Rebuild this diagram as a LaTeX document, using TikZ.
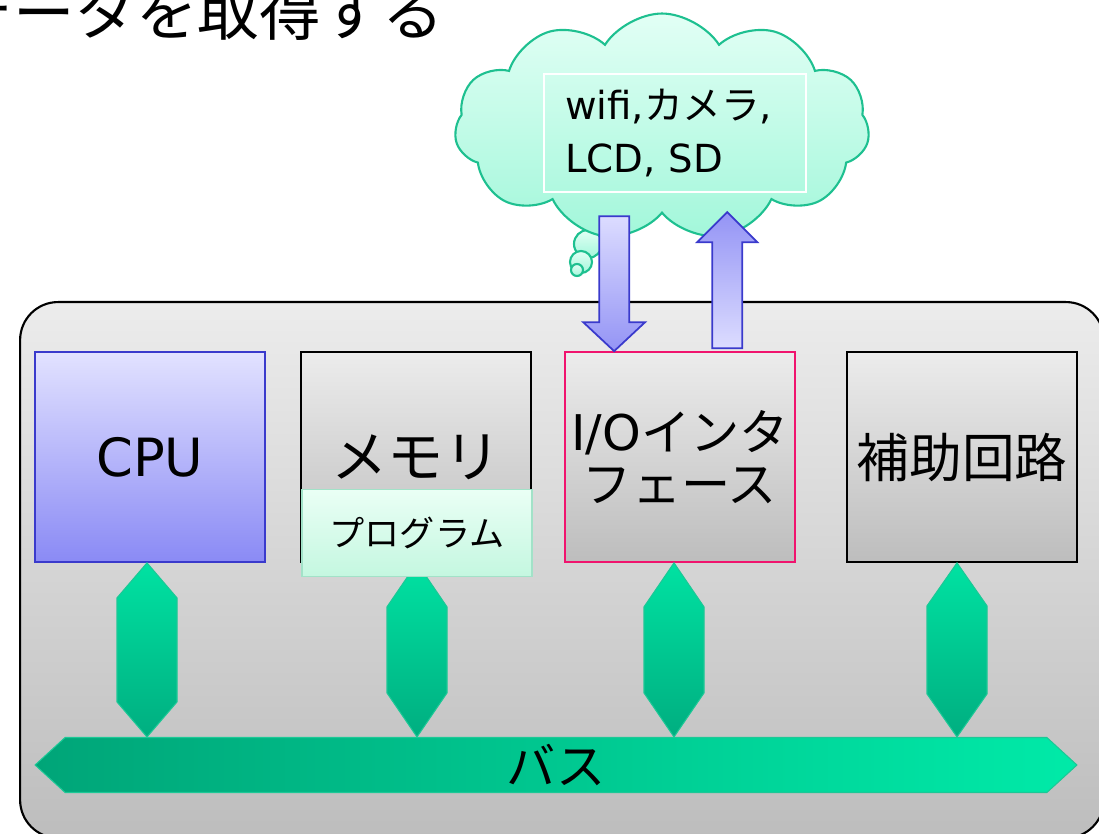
\documentclass[tikz,border=0pt]{standalone}
\usepackage{fontspec}
\setmainfont{DejaVu Sans}
\newfontfamily\jp{Noto Sans CJK JP}
\usetikzlibrary{calc,shapes.symbols,shapes.arrows}

\definecolor{grayTop}{HTML}{ECECEC}
\definecolor{grayBot}{HTML}{BDBDBD}
\definecolor{cpuTop}{HTML}{E2E2FF}
\definecolor{cpuBot}{HTML}{8A8AF5}
\definecolor{cpuLine}{HTML}{3A3ACC}
\definecolor{ioLine}{HTML}{F0146E}
\definecolor{progTop}{HTML}{EAFFF5}
\definecolor{progBot}{HTML}{C4F7E0}
\definecolor{progLine}{HTML}{A2E2C8}
\definecolor{greenTop}{HTML}{00E2A2}
\definecolor{greenBot}{HTML}{00AE80}
\definecolor{greenLine}{HTML}{1CC896}
\definecolor{busLeft}{HTML}{00A578}
\definecolor{busRight}{HTML}{00EAA8}
\definecolor{cloudTop}{HTML}{E2FFF5}
\definecolor{cloudBot}{HTML}{A2F7DA}
\definecolor{cloudLine}{HTML}{1EC090}
\definecolor{arrLight}{HTML}{DCDCFF}
\definecolor{arrDark}{HTML}{9494F5}

\begin{document}
\begin{tikzpicture}[x=0.02cm, y=-0.02cm,
    board/.style={draw, line width=1.2pt, rounded corners=0.76cm,
                  top color=grayTop, bottom color=grayBot,
                  minimum width=21.68cm, minimum height=10.72cm},
    unit/.style={draw, line width=1pt, inner sep=0pt, align=center,
                 minimum width=4.6cm, minimum height=4.2cm,
                 top color=grayTop, bottom color=grayBot,
                 font=\fontsize{30}{36}\selectfont},
    prog/.style={draw=progLine, line width=1pt, top color=progTop, bottom color=progBot,
                 minimum width=4.6cm, minimum height=1.74cm,
                 font=\fontsize{20}{22}\selectfont\jp},
    bus/.style={shape=double arrow, double arrow head extend=0pt,
                double arrow tip angle=85, draw=greenLine, line width=0.6pt,
                minimum height=20.84cm, minimum width=1.1cm, inner sep=0pt,
                left color=busLeft, right color=busRight,
                font=\fontsize{28}{30}\selectfont\jp},
    link/.style={draw=greenLine, line width=0.6pt, top color=greenTop, bottom color=greenBot},
    puff/.style={draw=cloudLine, line width=1.2pt, top color=cloudTop, bottom color=cloudBot},
    fat/.style={draw=cpuLine, line width=1pt}]

  \useasboundingbox (0,0) rectangle (1099,834);
  \clip (0,0) rectangle (1099,834);

  \node [anchor=base east, font=\fontsize{35}{40}\selectfont\jp] (title) at (450,36)
        {データを取得する};

  \node [board] (board) at (562,570) {};

  % the four units on the board
  \node [unit, draw=cpuLine, top color=cpuTop, bottom color=cpuBot] (cpu) at (150,457) {CPU};
  \node [unit, font=\fontsize{32}{36}\selectfont] (mem) at (416,457) {\jp メモリ};
  \node [unit, draw=ioLine, font=\fontsize{28}{30}\selectfont] (io) at (680,457)
        {I/O{\jp インタ}\\{\jp フェース}};
  \node [unit] (aux) at (962,457) {\jp 補助回路};

  \node [bus] (bus) at (556,765) {バス};

  % unit <-> bus links
  \foreach \b/\h/\s in {cpu/35/-3, mem/44/1, io/44/-6, aux/43/-5}
    \draw [link] ($(\b.south)+(\s,0)$) -- ++(30,\h)
          -- ($(\b.south |- bus.north)+(\s+30,-\h)$)
          -- ($(\b.south |- bus.north)+(\s,0)$)
          -- ($(\b.south |- bus.north)+(\s-30,-\h)$)
          -- ($(\b.south)+(\s-30,\h)$) -- cycle;

  \node [prog] (prog) at (417,533) {プログラム};

  % devices cloud
  \draw [puff] (588,244) circle (14);
  \draw [puff] (581,262) circle (11);
  \draw [puff] (577,270) circle (6);
  \node [puff, shape=cloud, cloud puffs=11, cloud puff arc=115, aspect=1.83,
         minimum width=8.3cm, minimum height=4.54cm, inner sep=0pt] (cloud) at (662,127) {};
  \node [draw=white, line width=1pt, minimum width=5.24cm, minimum height=2.36cm,
         inner xsep=0.42cm, text width=4.4cm, align=left,
         font=\fontsize{22}{30}\selectfont] (dev) at (675,133)
        {wifi,{\jp カメラ},\\LCD, SD};

  % data in / out of the I/O unit
  \coordinate (dn) at ($(io.north west)+(50,0)$);
  \coordinate (up) at ($(io.north west)+(163,-3)$);
  \draw [fat, top color=arrLight, bottom color=arrDark] (dn) -- ++(31,-29) -- ++(-16,0)
        -- ++(0,-106) -- ++(-30,0) -- ++(0,106) -- ++(-16,0) -- cycle;
  \draw [fat, top color=arrDark, bottom color=arrLight] (up) -- ++(15,0) -- ++(0,-106)
        -- ++(15,0) -- ++(-30,-30) -- ++(-30,30) -- ++(15,0) -- ++(0,106) -- cycle;

\end{tikzpicture}
\end{document}
